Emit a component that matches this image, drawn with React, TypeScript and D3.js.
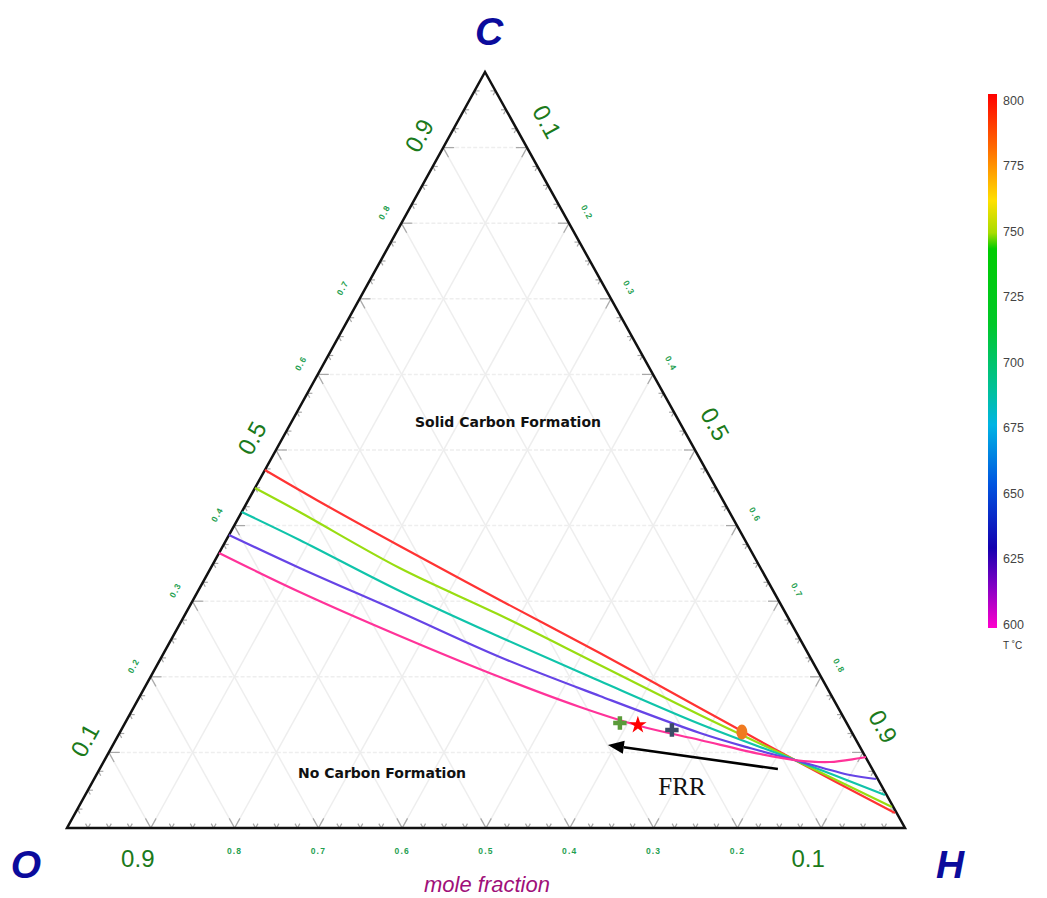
import React from 'react';
import * as d3 from 'd3';

// Ternary data: each point is [C, H] mole fraction; O = 1 - C - H
const curve800: [number, number][] = [
  [0.4735, 0.0], [0.4339, 0.0814], [0.373, 0.2109], [0.3016, 0.3659], [0.2315, 0.5203],
  [0.1587, 0.676], [0.0899, 0.8237], [0.0198, 0.9782],
];
const curve755: [number, number][] = [
  [0.4497, 0.0], [0.418, 0.069], [0.3439, 0.2254], [0.2817, 0.3758], [0.2156, 0.5282],
  [0.1495, 0.6807], [0.0899, 0.8237], [0.0278, 0.9706],
];
const curve695: [number, number][] = [
  [0.418, 0.0], [0.381, 0.0875], [0.3135, 0.2407], [0.2526, 0.3904], [0.1944, 0.5388],
  [0.1376, 0.6866], [0.0899, 0.8237], [0.0437, 0.9543],
];
const curve640: [number, number][] = [
  [0.3876, 0.0], [0.3439, 0.1061], [0.2857, 0.2545], [0.2262, 0.4036], [0.1746, 0.5487],
  [0.1257, 0.6926], [0.1058, 0.7621], [0.0899, 0.8237], [0.0701, 0.8993], [0.0648, 0.933],
];
const curve605: [number, number][] = [
  [0.3638, 0.0], [0.3122, 0.1219], [0.254, 0.2704], [0.1997, 0.4168], [0.1601, 0.5322],
  [0.1349, 0.6163], [0.1164, 0.6972], [0.0979, 0.7781], [0.0899, 0.8237], [0.0873, 0.8668],
  [0.0939, 0.9065],
];
const curveColors = ['#ff3333', '#99dd11', '#10c4aa', '#6644e6', '#ff3399'];

// markers [C, H]
const greenPlus: [number, number] = [0.1389, 0.5905];
const redStar: [number, number] = [0.1362, 0.6133];
const darkPlus: [number, number] = [0.1296, 0.6572];
const orangeDot: [number, number] = [0.127, 0.742];
const frrArrow: [number, number][] = [[0.078, 0.8094], [0.1098, 0.5907]];

const gridValues = [0.1, 0.2, 0.3, 0.4, 0.5, 0.6, 0.7, 0.8, 0.9];
const bigLabels = ['0.1', '0.5', '0.9'];
const tempTicks = [800, 775, 750, 725, 700, 675, 650, 625, 600];
const gradientStops: [number, string][] = [
  [0, '#ff0000'], [0.1, '#ff6a00'], [0.2, '#ffe000'], [0.26, '#a8dc00'], [0.29, '#00cc00'],
  [0.43, '#00c828'], [0.56, '#00c0a0'], [0.62, '#00b4e4'], [0.73, '#0055e0'],
  [0.85, '#1400b0'], [0.92, '#8000c4'], [1, '#ff00cc'],
];

const W = 1047;
const H = 898;
const xS = d3.scaleLinear().domain([0, 1]).range([67, 905]);
const yS = d3.scaleLinear().domain([0, 1]).range([828, 72]);
const proj = (p: [number, number]): [number, number] => [xS(p[1] + p[0] * (418 / 838)), yS(p[0])];
const tempY = d3.scaleLinear().domain([600, 800]).range([624, 100]);

const lineGen = d3
  .line<[number, number]>()
  .x((d) => proj(d)[0])
  .y((d) => proj(d)[1])
  .curve(d3.curveCatmullRom.alpha(0.5));

function unit(a: [number, number], b: [number, number]): [number, number] {
  const dx = b[0] - a[0];
  const dy = b[1] - a[1];
  const l = Math.hypot(dx, dy) || 1;
  return [dx / l, dy / l];
}

export default function App() {
  const O = proj([0, 0]);
  const Hv = proj([0, 1]);
  const C = proj([1, 0]);

  // grid lines
  const grid: { a: [number, number]; b: [number, number]; dash: boolean }[] = [];
  gridValues.forEach((v) => {
    grid.push({ a: proj([v, 0]), b: proj([v, 1 - v]), dash: true });
    grid.push({ a: proj([0, v]), b: proj([1 - v, v]), dash: false });
    grid.push({ a: proj([0, 1 - v]), b: proj([1 - v, 0]), dash: false });
  });

  // ticks along edges
  const ticks: { x1: number; y1: number; x2: number; y2: number }[] = [];
  for (let i = 1; i < 40; i++) {
    const t = i / 40;
    const len = i % 4 === 0 ? 11 : 5;
    const sets: { p: [number, number]; targets: [number, number][] }[] = [
      { p: proj([0, t]), targets: [proj([1 - t, t]), proj([t, 0])] },
      { p: proj([t, 0]), targets: [proj([t, 1 - t]), proj([0, t])] },
      { p: proj([1 - t, t]), targets: [proj([1 - t, 0]), proj([0, t])] },
    ];
    sets.forEach((s) => {
      s.targets.forEach((tg) => {
        const u = unit(s.p, tg);
        ticks.push({ x1: s.p[0], y1: s.p[1], x2: s.p[0] + u[0] * len, y2: s.p[1] + u[1] * len });
      });
    });
  }

  const curves = [curve800, curve755, curve695, curve640, curve605];

  const starPath = d3.symbol().type(d3.symbolStar).size(95)()!;
  const crossPath = d3.symbol().type(d3.symbolCross).size(100)()!;

  const [gp, rs, dp, od] = [proj(greenPlus), proj(redStar), proj(darkPlus), proj(orangeDot)];
  const tail = proj(frrArrow[0]);
  const tip = proj(frrArrow[1]);
  const ua = unit(tail, tip);
  const headLen = 16;
  const headW = 6.5;
  const base: [number, number] = [tip[0] - ua[0] * headLen, tip[1] - ua[1] * headLen];
  const nrm: [number, number] = [-ua[1], ua[0]];
  const headPts = [
    tip,
    [base[0] + nrm[0] * headW, base[1] + nrm[1] * headW],
    [base[0] - nrm[0] * headW, base[1] - nrm[1] * headW],
  ]
    .map((p) => p.join(','))
    .join(' ');

  const smallFont = { fontFamily: 'Liberation Sans, Arial, sans-serif', fontSize: 8.5, fontWeight: 700, letterSpacing: 1.2, fill: '#1fa050' };
  const bigFont = { fontFamily: 'Liberation Sans, Arial, sans-serif', fontSize: 24, fill: '#1b7a1b' };

  return (
    <svg width={W} height={H} style={{ position: 'absolute', left: 0, top: 0, background: '#fff' }}>
      <defs>
        <linearGradient id="tbar" x1="0" y1="0" x2="0" y2="1">
          {gradientStops.map(([o, c], i) => (
            <stop key={i} offset={o} stopColor={c} />
          ))}
        </linearGradient>
      </defs>
      <rect x={0} y={0} width={W} height={H} fill="#fff" />

      {/* grid */}
      {grid.map((g, i) => (
        <line
          key={'g' + i}
          x1={g.a[0]}
          y1={g.a[1]}
          x2={g.b[0]}
          y2={g.b[1]}
          stroke="#eeeeee"
          strokeWidth={1.5}
          strokeDasharray={g.dash ? '4,2' : undefined}
        />
      ))}
      {ticks.map((t, i) => (
        <line key={'t' + i} x1={t.x1} y1={t.y1} x2={t.x2} y2={t.y2} stroke="#a8a8a8" strokeWidth={1.2} />
      ))}

      {/* triangle */}
      <polygon points={[O, Hv, C].map((p) => p.join(',')).join(' ')} fill="none" stroke="#111" strokeWidth={2.5} strokeLinejoin="miter" />

      {/* curves */}
      {curves.map((c, i) => (
        <path key={'c' + i} d={lineGen(c)!} fill="none" stroke={curveColors[i]} strokeWidth={2.2} />
      ))}

      {/* markers */}
      <path d={crossPath} transform={`translate(${gp[0]},${gp[1]})`} fill="#5b9b3a" />
      <path d={starPath} transform={`translate(${rs[0]},${rs[1]})`} fill="#ff0000" />
      <path d={crossPath} transform={`translate(${dp[0]},${dp[1]})`} fill="#3c4c66" />
      <ellipse cx={od[0]} cy={od[1]} rx={5.5} ry={7.5} fill="#f07a20" />

      {/* arrow */}
      <line x1={tail[0]} y1={tail[1]} x2={base[0]} y2={base[1]} stroke="#000" strokeWidth={2.6} />
      <polygon points={headPts} fill="#000" />
      <text x={682} y={795} textAnchor="middle" fontFamily="Liberation Serif, Times New Roman, serif" fontSize={25} fill="#111">
        FRR
      </text>

      {/* region labels */}
      <text x={508} y={427} textAnchor="middle" fontFamily="DejaVu Sans, Verdana, sans-serif" fontWeight={700} fontSize={14} fill="#111">
        Solid Carbon Formation
      </text>
      <text x={382} y={778} textAnchor="middle" fontFamily="DejaVu Sans, Verdana, sans-serif" fontWeight={700} fontSize={14} fill="#111">
        No Carbon Formation
      </text>

      {/* bottom labels: O fraction */}
      {gridValues.map((v, i) => {
        const lab = (1 - v).toFixed(1);
        const big = bigLabels.includes(lab) && lab !== '0.5';
        const p = proj([0, v]);
        return big ? (
          <text key={'b' + i} x={p[0] - 13} y={867} textAnchor="middle" {...bigFont}>
            {lab}
          </text>
        ) : (
          <text key={'b' + i} x={p[0]} y={854} textAnchor="middle" {...smallFont}>
            {lab}
          </text>
        );
      })}
      {/* left labels: C fraction */}
      {gridValues.map((v, i) => {
        const lab = v.toFixed(1);
        const big = bigLabels.includes(lab);
        const p = proj([v, 0]);
        const x = p[0] + (big ? -24 : -17);
        const y = p[1] + (big ? -12 : -11);
        return (
          <text
            key={'l' + i}
            x={x}
            y={y}
            textAnchor="middle"
            dominantBaseline="central"
            transform={`rotate(-61,${x},${y})`}
            {...(big ? bigFont : smallFont)}
          >
            {lab}
          </text>
        );
      })}
      {/* right labels: H fraction */}
      {gridValues.map((v, i) => {
        const lab = v.toFixed(1);
        const big = bigLabels.includes(lab);
        const p = proj([1 - v, v]);
        const x = p[0] + (big ? 20 : 18);
        const y = p[1] + (big ? -26 : -11);
        return (
          <text
            key={'r' + i}
            x={x}
            y={y}
            textAnchor="middle"
            dominantBaseline="central"
            transform={`rotate(61,${x},${y})`}
            {...(big ? bigFont : smallFont)}
          >
            {lab}
          </text>
        );
      })}

      {/* vertex labels */}
      <g fontFamily="Liberation Sans, Arial, sans-serif" fontWeight={700} fontStyle="italic" fontSize={39} fill="#0b0b9c" textAnchor="middle">
        <text x={489} y={45}>C</text>
        <text x={26} y={878}>O</text>
        <text x={950} y={878}>H</text>
      </g>
      <text x={487} y={892} textAnchor="middle" fontFamily="Liberation Sans, Arial, sans-serif" fontStyle="italic" fontSize={22} fill="#a0107a">
        mole fraction
      </text>

      {/* colorbar */}
      <rect x={988} y={94} width={9} height={534} fill="url(#tbar)" />
      {tempTicks.map((t) => (
        <text key={'ct' + t} x={1003} y={tempY(t) + 4.5} fontFamily="Liberation Sans, Arial, sans-serif" fontSize={12.5} fill="#444">
          {t}
        </text>
      ))}
      <text x={1003} y={649} fontFamily="Liberation Sans, Arial, sans-serif" fontSize={10} fill="#333">
        T ˚C
      </text>
    </svg>
  );
}
